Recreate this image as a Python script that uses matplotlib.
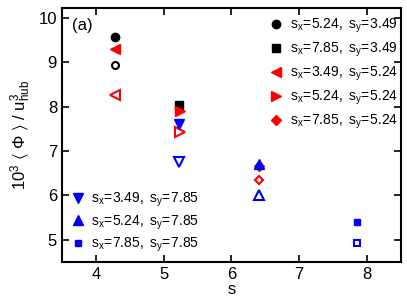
import numpy as np
import matplotlib
matplotlib.use("Agg")
import matplotlib.pyplot as plt

plt.rcParams['font.family'] = ['Liberation Sans', 'DejaVu Sans']
plt.rcParams['mathtext.fontset'] = 'custom'
plt.rcParams['mathtext.rm'] = 'Liberation Sans'
plt.rcParams['mathtext.it'] = 'Liberation Sans'

# cases (sx, sy)
sx = [5.24, 7.85, 3.49, 5.24, 7.85, 3.49, 5.24, 7.85]
sy = [3.49, 3.49, 5.24, 5.24, 5.24, 7.85, 7.85, 7.85]
markers = ['o', 's', '<', '>', 'D', 'v', '^', 's']
colors = ['k', 'k', 'r', 'r', 'r', 'b', 'b', 'b']
filled_vals = [9.58, 8.04, 9.30, 7.90, 6.66, 7.61, 6.72, 5.40]
open_vals = [8.94, 8.00, 8.26, 7.43, 6.36, 6.76, 6.00, 4.92]
msizes = [6.0, 5.5, 7.5, 7.5, 5.5, 7.5, 7.5, 5.0]

s = np.sqrt(np.array(sx) * np.array(sy))

fig = plt.figure(figsize=(4.07, 3.05), dpi=100)
ax = fig.add_axes([0.152, 0.141, 0.833, 0.833])

for i in range(len(sx)):
    ax.plot(s[i], open_vals[i], linestyle='none', marker=markers[i], ms=msizes[i] - 1,
            mfc='white', mec=colors[i], mew=1.5)
handles = []
for i in range(len(sx)):
    h, = ax.plot(s[i], filled_vals[i], linestyle='none', marker=markers[i], ms=msizes[i],
                 mfc=colors[i], mec=colors[i],
                 label=r'$\mathregular{s_x\!=\!%.2f,\ s_y\!=\!%.2f}$' % (sx[i], sy[i]))
    handles.append(h)

ax.set_xlim(3.5, 8.5)
ax.set_ylim(4.5, 10.23)
ax.set_xticks([4, 5, 6, 7, 8])
ax.set_yticks([5, 6, 7, 8, 9, 10])
ax.tick_params(direction='in', top=True, right=True, labelsize=12, length=5, width=1.2)
for sp in ax.spines.values():
    sp.set_linewidth(1.5)
ax.set_xlabel('s', fontsize=12, labelpad=0)
ax.set_ylabel(r'$\mathregular{10^3\ \langle\ \Phi\ \rangle\ /\ u^3_{hub}}$', fontsize=12, labelpad=4)
ax.text(0.03, 0.96, '(a)', transform=ax.transAxes, fontsize=12, va='top', ha='left')

leg1 = ax.legend(handles=handles[:5], loc='upper right', bbox_to_anchor=(1.0, 0.975),
                 frameon=False, fontsize=10, handlelength=1.0, handletextpad=0.5,
                 labelspacing=0.4, borderaxespad=0.1, borderpad=0.1)
ax.add_artist(leg1)
leg2 = ax.legend(handles=handles[5:], loc='lower left', bbox_to_anchor=(0.02, 0.02),
                 frameon=False, fontsize=10, handlelength=1.0, handletextpad=0.4,
                 labelspacing=0.3, borderaxespad=0.1, borderpad=0.1)

fig.savefig('out.png', dpi=100)
